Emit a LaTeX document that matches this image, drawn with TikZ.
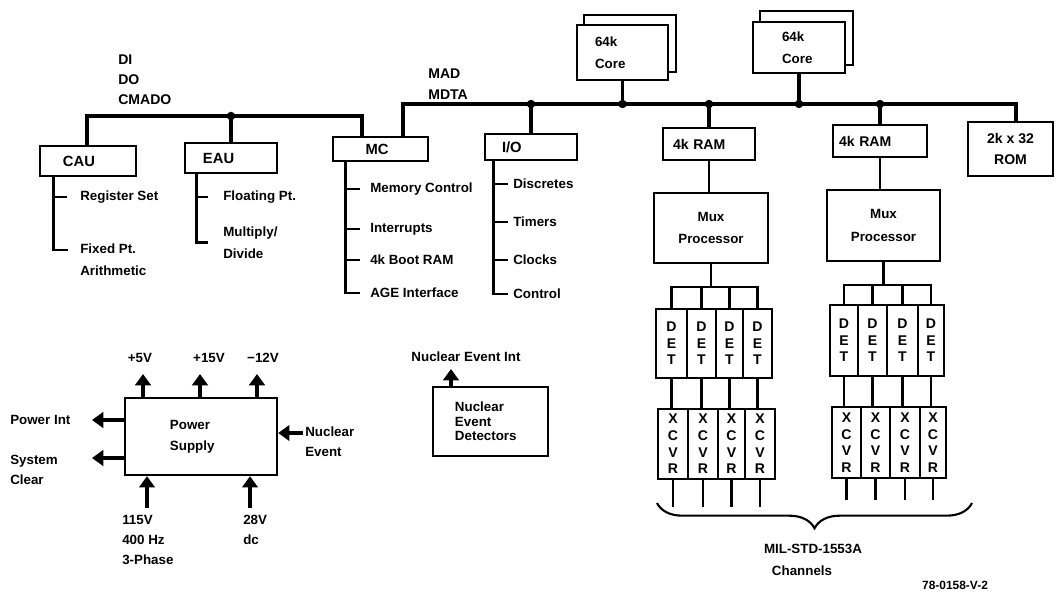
\documentclass[tikz,border=0pt]{standalone}
\usepackage{fontspec}
\setmainfont{Liberation Sans}
\usetikzlibrary{calc,arrows.meta,decorations.pathreplacing}
\begin{document}
\begin{tikzpicture}[x=0.025cm,y=-0.025cm,
 every node/.style={font=\fontsize{9.5}{12}\selectfont\bfseries, inner sep=0pt},
 rect/.style 2 args={minimum width=#1*0.025cm, minimum height=#2*0.025cm},
 box/.style={draw, line width=1.7pt, fill=white, align=center},
 lft/.style={text width=#1, align=left},
 bus/.style={line width=2.6pt},
 ln/.style={line width=1.8pt},
 sub/.style={line width=1.9pt},
 arr/.style={line width=3pt, -{Triangle[width=11pt,length=8pt]}},
 jdot/.style={circle, fill, inner sep=0pt, minimum size=6pt},
 cell/.style={draw, line width=1.5pt, align=center, font=\fontsize{10}{11.8}\selectfont\bfseries},
 lbl/.style={anchor=west},
 mlbl/.style={anchor=north west, align=left, font=\fontsize{9.5}{14.2}\selectfont\bfseries}
]
\useasboundingbox (0,0) rectangle (1056,594);

% ---------- labels on buses
\node[mlbl, font=\fontsize{10}{14.2}\selectfont\bfseries] (dido) at (118,55) {DI\\DO\\CMADO};
\node[mlbl, font=\fontsize{10}{14.8}\selectfont\bfseries] (mad) at (428,69) {MAD\\MDTA};

% ---------- core boxes (stacked)
\node[box, rect={92}{57}] (c1b) at (630,43.5) {};
\node[box, rect={91}{55}, lft=1.375cm, font=\fontsize{9.5}{16}\selectfont\bfseries] (core1) at (622.5,52.5) {64k\\Core};
\node[box, rect={93}{54}] (c2b) at (806.5,38) {};
\node[box, rect={92}{51}, lft=0.85cm, font=\fontsize{9.5}{16}\selectfont\bfseries] (core2) at (799,47.5) {64k\\Core};

% ---------- main boxes
\node[box, rect={96}{30}, lft=1.25cm, font=\fontsize{10.5}{12}\selectfont\bfseries] (cau) at (88,161) {CAU};
\node[box, rect={92}{30}, lft=1.4cm, font=\fontsize{10.5}{12}\selectfont\bfseries] (eau) at (231,158) {EAU};
\node[box, rect={95}{24}, lft=0.75cm, font=\fontsize{10.5}{12}\selectfont\bfseries] (mc) at (380.5,149) {MC};
\node[box, rect={92}{26}, lft=1.45cm, font=\fontsize{10.5}{12}\selectfont\bfseries] (io) at (531,147) {I/O};
\node[box, rect={92}{32}, lft=1.8cm, font=\fontsize{10}{12}\selectfont\bfseries] (ram1) at (709,144) {4k RAM};
\node[box, rect={94}{32}, lft=2.05cm, font=\fontsize{10}{12}\selectfont\bfseries] (ram2) at (880,141) {4k RAM};
\node[box, rect={85}{54}, font=\fontsize{10}{15}\selectfont\bfseries] (rom) at (1010.5,149) {2k x 32\\ROM};
\node[box, rect={114}{70}, font=\fontsize{9.5}{16}\selectfont\bfseries] (mux1) at (711,228) {Mux\\Processor};
\node[box, rect={113}{71}, font=\fontsize{9.5}{16}\selectfont\bfseries] (mux2) at (883.5,225.5) {Mux\\Processor};

% ---------- left bus
\coordinate (lb1) at (87,116);
\coordinate (lb2) at (362,116);
\draw[bus] (cau.north -| lb1) -- (lb1) -- (lb2) -- (mc.north -| lb2);
\draw[bus] (eau.north) -- (eau.north |- lb1);
\node[jdot] (j1) at (eau.north |- lb1) {};

% ---------- right bus
\coordinate (rb1) at (403,104);
\coordinate (rb2) at (1016,104);
\draw[bus] (mc.north -| rb1) -- (rb1) -- (rb2) -- (rom.north -| rb2);
\draw[bus] (io.north) -- (io.north |- rb1);
\node[jdot] (j2) at (io.north |- rb1) {};
\draw[bus] (core1.south) -- (core1.south |- rb1);
\node[jdot] (j3) at (core1.south |- rb1) {};
\draw[bus] (ram1.north) -- (ram1.north |- rb1);
\node[jdot] (j4) at (ram1.north |- rb1) {};
\draw[bus] (core2.south) -- (core2.south |- rb1);
\node[jdot] (j5) at (core2.south |- rb1) {};
\draw[bus] (ram2.north) -- (ram2.north |- rb1);
\node[jdot] (j6) at (ram2.north |- rb1) {};

% ---------- RAM to Mux
\draw[ln] (ram1.south) -- (ram1.south |- mux1.north);
\draw[ln] (ram2.south) -- (ram2.south |- mux2.north);

% ---------- CAU items
\coordinate (caux) at ($(cau.south west)+(15,0)$);
\node[lbl] (cau1) at (80,197) {Register Set};
\node[mlbl, font=\fontsize{9.5}{15}\selectfont\bfseries] (cau2) at (80,244) {Fixed Pt.\\Arithmetic};
\coordinate (cau2t) at ($(cau2.north west)+(-12,6)$);
\draw[sub] (caux) -- (caux |- cau2t) -- (cau2t);
\draw[sub] (caux |- cau1.west) -- ($(cau1.west)+(-13,0)$);

% ---------- EAU items
\coordinate (eaux) at ($(eau.south west)+(13,0)$);
\node[lbl] (eau1) at (223,197) {Floating Pt.};
\node[mlbl, font=\fontsize{9.5}{15}\selectfont\bfseries] (eau2) at (223,227) {Multiply/\\Divide};
\draw[sub] (eaux) -- (eaux |- eau2.west) -- ($(eau2.west)+(-15,0)$);
\draw[sub] (eaux |- eau1.west) -- ($(eau1.west)+(-15,0)$);

% ---------- MC items
\coordinate (mcx) at ($(mc.south west)+(14,0)$);
\node[lbl] (mc1) at (370,189) {Memory Control};
\node[lbl] (mc2) at (370,229) {Interrupts};
\node[lbl] (mc3) at (370,260) {4k Boot RAM};
\node[lbl] (mc4) at (370,293) {AGE Interface};
\draw[sub] (mcx) -- (mcx |- mc4.west) -- ($(mc4.west)+(-10,0)$);
\draw[sub] (mcx |- mc1.west) -- ($(mc1.west)+(-10,0)$);
\draw[sub] (mcx |- mc2.west) -- ($(mc2.west)+(-10,0)$);
\draw[sub] (mcx |- mc3.west) -- ($(mc3.west)+(-10,0)$);

% ---------- I/O items
\coordinate (iox) at ($(io.south west)+(10,0)$);
\node[lbl] (io1) at (513,184) {Discretes};
\node[lbl] (io2) at (513,222) {Timers};
\node[lbl] (io3) at (513,260) {Clocks};
\node[lbl] (io4) at (513,294) {Control};
\draw[sub] (iox) -- (iox |- io4.west) -- ($(io4.west)+(-5,0)$);
\draw[sub] (iox |- io1.west) -- ($(io1.west)+(-5,0)$);
\draw[sub] (iox |- io2.west) -- ($(io2.west)+(-5,0)$);
\draw[sub] (iox |- io3.west) -- ($(io3.west)+(-5,0)$);

% ---------- DET / XCVR group 1
\node[cell, rect={31}{69}] (d11) at (671.5,343.5) {D\\E\\T};
\node[cell, rect={29}{69}] (d12) at (701.5,343.5) {D\\E\\T};
\node[cell, rect={27}{69}] (d13) at (729.5,343.5) {D\\E\\T};
\node[cell, rect={29}{69}] (d14) at (757.5,343.5) {D\\E\\T};
\node[cell, rect={30}{70}] (x11) at (673,444) {X\\C\\V\\R};
\node[cell, rect={30}{70}] (x12) at (703,444) {X\\C\\V\\R};
\node[cell, rect={27}{70}] (x13) at (731.5,444) {X\\C\\V\\R};
\node[cell, rect={30}{70}] (x14) at (760,444) {X\\C\\V\\R};
\coordinate (bar1) at (0,287);
\draw[ln] (mux1.south) -- (mux1.south |- bar1);
\draw[ln] (d11.north) -- (d11.north |- bar1) -- (d14.north |- bar1) -- (d14.north);
\draw[ln] (d12.north) -- (d12.north |- bar1);
\draw[ln] (d13.north) -- (d13.north |- bar1);
\foreach \i in {1,2,3,4} {
  \draw[ln] (d1\i.south) -- (d1\i.south |- x1\i.north);
}
\coordinate (out1) at (0,507);
\foreach \i in {1,2,3,4} {
  \draw[ln] (x1\i.south) -- (x1\i.south |- out1);
}

% ---------- DET / XCVR group 2
\node[cell, rect={28}{71}] (d21) at (844,340.5) {D\\E\\T};
\node[cell, rect={29}{71}] (d22) at (872.5,340.5) {D\\E\\T};
\node[cell, rect={31}{71}] (d23) at (902.5,340.5) {D\\E\\T};
\node[cell, rect={26}{71}] (d24) at (931,340.5) {D\\E\\T};
\node[cell, rect={29}{71}] (x21) at (846.5,442.5) {X\\C\\V\\R};
\node[cell, rect={29}{71}] (x22) at (875.5,442.5) {X\\C\\V\\R};
\node[cell, rect={30}{71}] (x23) at (905,442.5) {X\\C\\V\\R};
\node[cell, rect={26}{71}] (x24) at (933,442.5) {X\\C\\V\\R};
\coordinate (bar2) at (0,285);
\draw[ln] (mux2.south) -- (mux2.south |- bar2);
\draw[ln] (d21.north) -- (d21.north |- bar2) -- (d24.north |- bar2) -- (d24.north);
\draw[ln] (d22.north) -- (d22.north |- bar2);
\draw[ln] (d23.north) -- (d23.north |- bar2);
\foreach \i in {1,2,3,4} {
  \draw[ln] (d2\i.south) -- (d2\i.south |- x2\i.north);
}
\coordinate (out2) at (0,500);
\foreach \i in {1,2,3,4} {
  \draw[ln] (x2\i.south) -- (x2\i.south |- out2);
}

% ---------- brace and channel label
\coordinate (brR) at (972,503);
\coordinate (brL) at (657,503);
\draw[line width=1.5pt, decorate, decoration={brace, amplitude=18pt}] (brR) -- (brL);
\node (mil) at (813,549) {MIL-STD-1553A};
\node (chan) at (802,571) {Channels};
\node[font=\fontsize{8.5}{10}\selectfont\bfseries] (fig) at (955,585) {78-0158-V-2};

% ---------- power supply
\node[box, rect={152}{77}, lft=1.55cm, font=\fontsize{9.5}{15}\selectfont\bfseries] (psu) at (201,436.5) {Power\\Supply};
\node (v5) at (140,358) {+5V};
\node (v15) at (209,358) {+15V};
\node (v12) at (263,358) {−12V};
\coordinate (t5) at (143,374);
\coordinate (t15) at (200,374);
\coordinate (t12) at (257,374);
\draw[arr] (psu.north -| t5) -- (t5);
\draw[arr] (psu.north -| t15) -- (t15);
\draw[arr] (psu.north -| t12) -- (t12);
\node[lbl] (pint) at (10,420) {Power Int};
\coordinate (pit) at (92,420);
\draw[arr] (psu.west |- pit) -- (pit);
\node[mlbl] (sclr) at (10,455) {System\\Clear};
\coordinate (sct) at (92,458);
\draw[arr] (psu.west |- sct) -- (sct);
\node[mlbl] (nev) at (305,427) {Nuclear\\Event};
\coordinate (net) at (303,433);
\draw[arr] (net) -- (psu.east |- net);
\node[mlbl] (v115) at (122,515) {115V\\400 Hz\\3-Phase};
\node[mlbl] (v28) at (243,515) {28V\\dc};
\coordinate (s115) at (147,508);
\coordinate (s28) at (250,508);
\draw[arr] (s115) -- (psu.south -| s115);
\draw[arr] (s28) -- (psu.south -| s28);

% ---------- nuclear event detectors
\node[box, rect={115}{69}, lft=1.775cm, font=\fontsize{9.5}{10.4}\selectfont\bfseries] (ned) at (490.5,421.5) {Nuclear\\Event\\Detectors};
\node (nei) at (466,357) {Nuclear Event Int};
\coordinate (neit) at (451,369);
\draw[arr] (ned.north -| neit) -- (neit);

\end{tikzpicture}
\end{document}
